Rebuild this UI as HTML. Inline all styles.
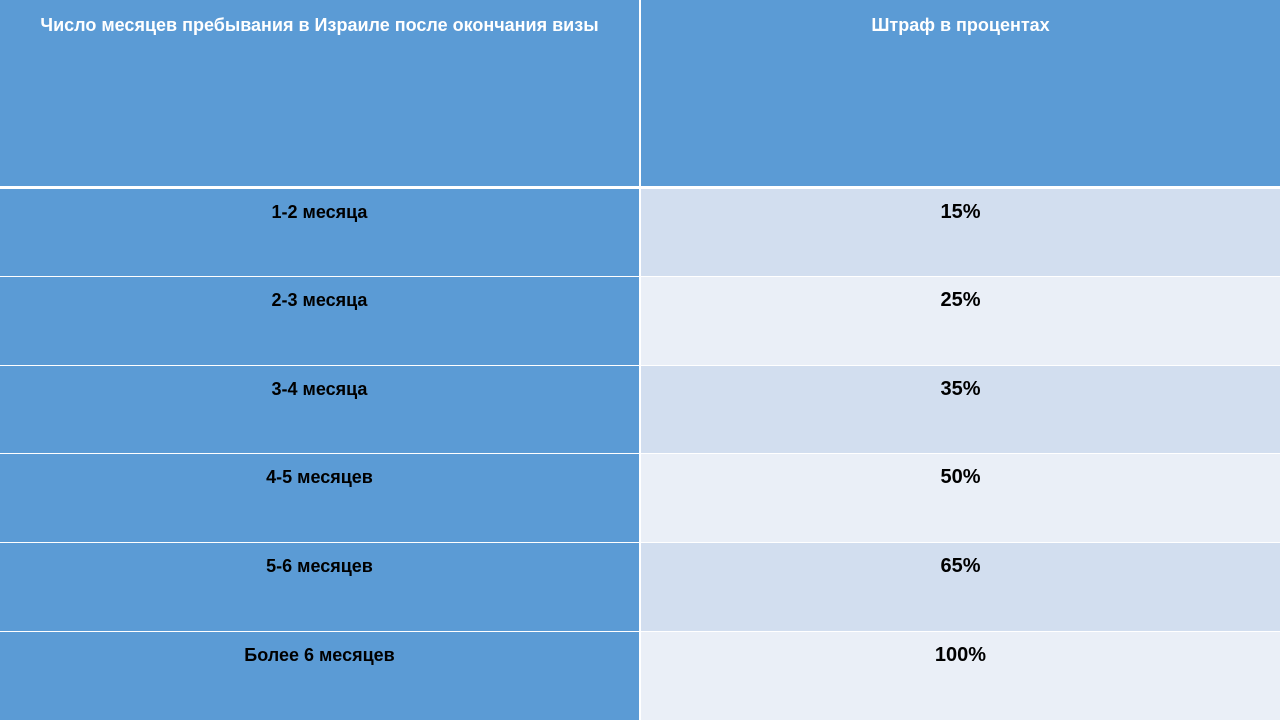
<!DOCTYPE html>
<html><head><meta charset="utf-8">
<style>
html,body{margin:0;padding:0;width:1280px;height:720px;overflow:hidden;background:#fff;font-family:"Liberation Sans","DejaVu Sans",sans-serif;}
.c{position:absolute;box-sizing:border-box;text-align:center;font-weight:bold;}
.h{background:#5B9BD5;color:#fff;font-size:18px;line-height:45px;padding:3px 20px 0;}
.l{background:#5B9BD5;color:#000;font-size:18px;padding-top:13px;}
.r{color:#000;font-size:20px;padding-top:12px;}
</style></head><body>
<div>
<div class="c h" style="left:0;top:0;width:639px;height:186px;">Число месяцев пребывания в Израиле после окончания визы</div>
<div class="c h" style="left:641px;top:0;width:639px;height:186px;">Штраф в процентах</div>

<div class="c l" style="left:0;top:189px;width:639px;height:87px;">1-2 месяца</div>
<div class="c r" style="left:641px;top:189px;width:639px;height:87px;background:#D2DEEF;">15%</div>

<div class="c l" style="left:0;top:277px;width:639px;height:88px;">2-3 месяца</div>
<div class="c r" style="left:641px;top:277px;width:639px;height:88px;background:#EAEFF7;">25%</div>

<div class="c l" style="left:0;top:366px;width:639px;height:87px;">3-4 месяца</div>
<div class="c r" style="left:641px;top:366px;width:639px;height:87px;background:#D2DEEF;">35%</div>

<div class="c l" style="left:0;top:454px;width:639px;height:88px;">4-5 месяцев</div>
<div class="c r" style="left:641px;top:454px;width:639px;height:88px;background:#EAEFF7;">50%</div>

<div class="c l" style="left:0;top:543px;width:639px;height:88px;">5-6 месяцев</div>
<div class="c r" style="left:641px;top:543px;width:639px;height:88px;background:#D2DEEF;">65%</div>

<div class="c l" style="left:0;top:632px;width:639px;height:88px;">Более 6 месяцев</div>
<div class="c r" style="left:641px;top:632px;width:639px;height:88px;background:#EAEFF7;">100%</div>
</div>
</body></html>
